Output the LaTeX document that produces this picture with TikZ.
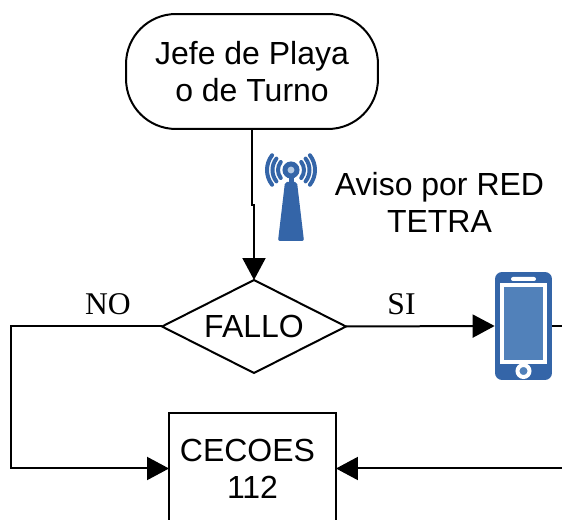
\documentclass[tikz,border=0pt]{standalone}
\usepackage{fontspec}
\setmainfont{Liberation Sans}
\newfontfamily\labelfont{Liberation Serif}
\usetikzlibrary{arrows.meta,shapes}
\tikzset{>={Triangle[length=0.44cm,width=0.46cm]}}
\definecolor{tetrablue}{HTML}{3465A8}
\definecolor{screenblue}{HTML}{5181BA}
\definecolor{dotblue}{HTML}{B4CAE4}
\tikzset{
  txt/.style={font=\fontsize{18.2}{21}\selectfont, align=center},
  flow/.style={draw, line width=0.04cm, outer sep=0pt, txt},
  wave/.style={tetrablue, line width=0.08cm, line cap=round},
  branch/.style={font=\labelfont\fontsize{18}{21}\selectfont}
}

\begin{document}
\begin{tikzpicture}[x=0.02cm,y=-0.02cm]
  \clip (0,0) rectangle (562,520);
  % flow boxes
  \node (jefe) at (252,71.5) [flow, rounded corners=1cm, minimum width=5.04cm, minimum height=2.3cm] {Jefe de Playa\\o de Turno};
  \node (fallo) at (254,326.5) [flow, diamond, aspect=2, inner sep=0pt, minimum width=3.68cm, minimum height=1.86cm] {FALLO};
  \node (cecoes) at (252.5,468.5) [flow, minimum width=3.34cm, minimum height=2.22cm] {CECOES\kern0.2cm\\112};
  % phone
  \node (phone) at (523.5,326) [fill=tetrablue, rounded corners=0.14cm, minimum width=1.14cm, minimum height=2.16cm] {};
  \node (frame) at (523.5,323.5) [fill=white, minimum width=0.94cm, minimum height=1.62cm] {};
  \node (screen) at (523.5,323.5) [fill=screenblue, minimum width=0.78cm, minimum height=1.46cm] {};
  \node (speaker) at (523.5,279) [fill=white, rounded corners=0.04cm, inner sep=0pt, minimum width=0.5cm, minimum height=0.08cm] {};
  \node (button) at (523.5,371) [circle, draw=white, line width=0.08cm, fill=screenblue, inner sep=0pt, minimum size=0.24cm] {};
  % tower
  \fill[tetrablue, rounded corners=0.04cm] (285,182) -- (297,182) -- (304,241) -- (278,241) -- cycle;
  \fill[tetrablue] (288.5,172) rectangle (293.5,184);
  \node (antenna) at (291,170) [circle, draw=tetrablue, line width=0.1cm, fill=dotblue, inner sep=0pt, minimum size=0.24cm] {};
  \foreach \r in {13,18.5,24} {
    \draw[wave] (291,170) ++(142:\r) arc[start angle=142, end angle=218, radius=\r];
    \draw[wave] (291,170) ++(38:\r) arc[start angle=38, end angle=-38, radius=\r];
  }
  % labels
  \node (aviso) at (439.5,202) [txt] {Aviso por RED\\TETRA};
  \node (no) at (108,304) [branch] {NO};
  \node (si) at (401.5,304) [branch] {SI};
  % connectors
  \coordinate (phoneout) at (562,326);
  \coordinate (cecoesin) at (562,468.5);
  \draw[line width=0.04cm,->] (jefe.south) -- ++(0,76) -- ++(2,0) -- (fallo.north);
  \draw[line width=0.04cm,->] (fallo.east) -- (phone.west);
  \draw[line width=0.04cm] (phone.east) -- (phoneout);
  \draw[line width=0.04cm,->] (fallo.west) -- (11,326.5) |- (cecoes.west);
  \draw[line width=0.04cm,->] (cecoesin) -- (cecoes.east);
\end{tikzpicture}
\end{document}
